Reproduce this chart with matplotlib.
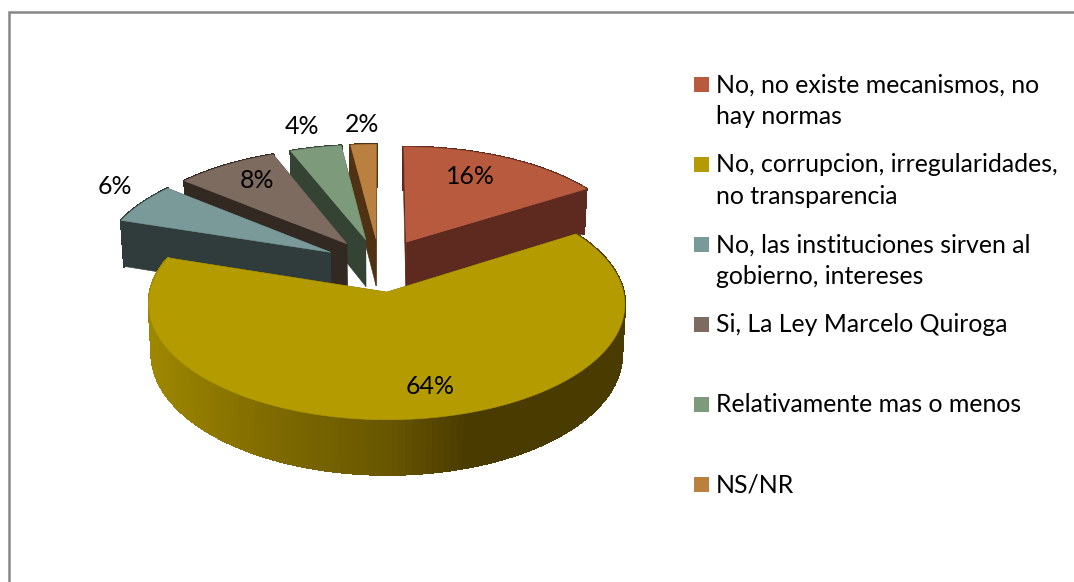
import numpy as np
import matplotlib
matplotlib.use("Agg")
import matplotlib.pyplot as plt
from matplotlib.patches import Polygon, Rectangle
from matplotlib.collections import PolyCollection
from matplotlib.colors import to_rgb

categories = ["No, no existe mecanismos, no\nhay normas",
              "No, corrupcion, irregularidades,\nno transparencia",
              "No, las instituciones sirven al\ngobierno, intereses",
              "Si, La Ley Marcelo Quiroga",
              "Relativamente mas o menos",
              "NS/NR"]
values = [16, 64, 6, 8, 4, 2]
top_colors = ["#B85A3E", "#B39B00", "#7A9A9A", "#7E6B60", "#7D9B7A", "#B98040"]
side_colors = ["#5E2A20", "#5A4E00", "#303C3C", "#332923", "#354335", "#4F3214"]
label_pos = [(470, 177), (430, 387), (115, 187), (257, 181), (302, 126), (362, 124)]

plt.rcParams['font.family'] = ['Lato', 'DejaVu Sans']
fig = plt.figure(figsize=(10.74, 5.82), dpi=100)
ax = fig.add_axes([0, 0, 1, 1])
ax.set_xlim(0, 1074); ax.set_ylim(582, 0); ax.axis('off')

A, B, K, D, EXP = 231, 109, 0.10, 48, 0.245
CX, CY = 379.5, 265

def proj(X, Y, low=False):
    X, Y = np.asarray(X, float), np.asarray(Y, float)
    w = 1 + K * Y
    sx = A * X / w
    sy = -B * Y / w
    if low:
        sx = sx * 0.988
        sy = sy + D / w
    return np.column_stack([CX + sx, CY + sy])

def quad_wall(p, q, color, z):
    ax.add_patch(Polygon(np.vstack([proj(*p), proj(*q), proj(*q, low=True), proj(*p, low=True)]),
                         closed=True, fc=color, ec=color, lw=0.4, zorder=z))

edges = np.concatenate([[0], np.cumsum(values)]) / sum(values) * 2 * np.pi
draw_order = [5, 0, 4, 3, 2, 1]
gold_stops = [(148, (0.62, 0.53, 0.0)), (270, (0.50, 0.42, 0.0)), (390, (0.41, 0.34, 0.0)),
              (470, (0.29, 0.23, 0.0)), (625, (0.29, 0.23, 0.0))]
for z, i in enumerate(draw_order):
    a1, a2 = edges[i], edges[i + 1]
    mid = (a1 + a2) / 2
    ox, oy = EXP * np.sin(mid), EXP * np.cos(mid)
    t = np.linspace(a1, a2, 160)
    ex, ey = ox + np.sin(t), oy + np.cos(t)
    base = 10 + z * 5
    # radial walls
    quad_wall(([ox], [oy]), ([ex[0]], [ey[0]]), side_colors[i], base)
    quad_wall(([ox], [oy]), ([ex[-1]], [ey[-1]]), side_colors[i], base)
    # outer curved wall
    up, lo = proj(ex, ey), proj(ex, ey, low=True)
    quads, cols = [], []
    for j in range(len(t) - 1):
        quads.append([up[j], up[j + 1], lo[j + 1], lo[j]])
        if i == 1:
            xm = up[j, 0]
            cols.append([np.interp(xm, [s[0] for s in gold_stops], [s[1][c] for s in gold_stops]) for c in range(3)])
        else:
            cols.append(to_rgb(side_colors[i]))
    ax.add_collection(PolyCollection(quads, facecolors=cols, edgecolors=cols, linewidths=1.2,
                                     antialiaseds=False, zorder=base + 1))
    # top face
    top = np.vstack([proj([ox], [oy]), up])
    ax.add_patch(Polygon(top, closed=True, fc=top_colors[i], ec=top_colors[i], lw=0.4, zorder=base + 2))

for v, (x, y) in zip(values, label_pos):
    ax.text(x, y, f"{v}%", ha='center', va='center', fontsize=17.9, color='black', zorder=100)

for k, (name, col) in enumerate(zip(categories, top_colors)):
    y = 84 + 80 * k
    ax.add_patch(Rectangle((694, y - 7.5), 15, 15, fc=col, ec='none', zorder=100))
    for n, line in enumerate(name.split("\n")):
        ax.text(716, y + 1 + 31 * n, line, ha='left', va='center', fontsize=17.9, color='black', zorder=100)

# chart frame: only the top and left edges fall inside the picture
ax.plot([1074, 8.7, 8.7], [12, 12, 582], color='#868686', lw=1.8, solid_joinstyle='miter', zorder=1)

fig.savefig("out.png", dpi=100, facecolor='white')
